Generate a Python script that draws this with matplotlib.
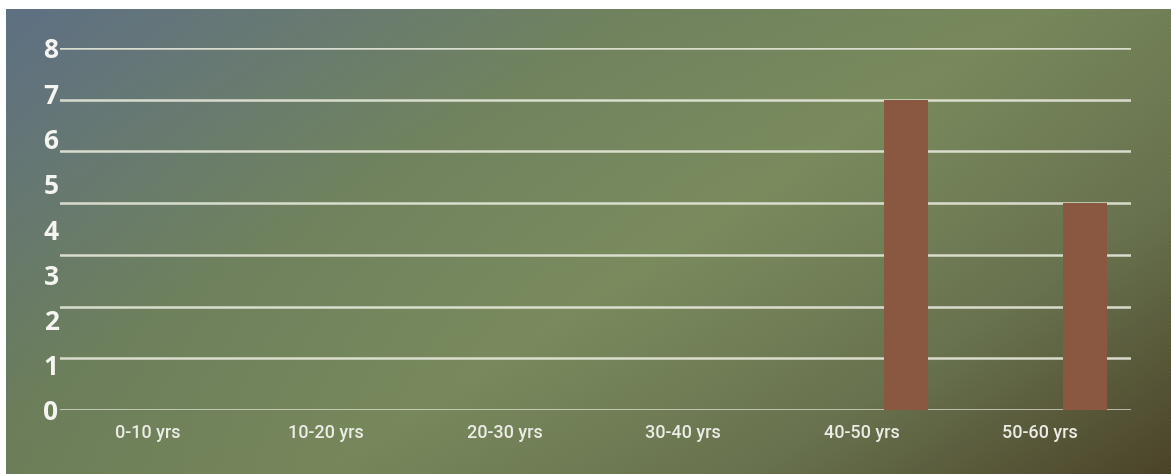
import numpy as np
import matplotlib
matplotlib.use("Agg")
import matplotlib.pyplot as plt
from matplotlib.colors import LinearSegmentedColormap

# Age-group counts
categories = ["0-10 yrs", "10-20 yrs", "20-30 yrs", "30-40 yrs", "40-50 yrs", "50-60 yrs"]
counts = [0, 0, 0, 0, 6.86, 4.57]
y_tick_labels = ["0", "1", "2", "3", "4", "5", "6", "7", "8"]

W, H = 1171, 474
fig = plt.figure(figsize=(W / 100, H / 100), dpi=100)
fig.patch.set_facecolor("white")

# Gradient backdrop: slate blue top-left -> olive green -> dark olive bottom-right
bg = fig.add_axes([6 / W, 0, 1 - 6 / W, 1 - 9 / H])
bg.set_axis_off()
ny, nx = H - 9, W - 6
py, px = np.mgrid[0:ny, 0:nx]
xx = px / (nx - 1)
yy = py / (ny - 1)
t = np.clip(0.62 * xx + 0.38 * yy, 0, 1)
stops = [(0.0, "#63758a"), (0.33, "#71845f"), (0.55, "#7a8b5e"),
         (0.78, "#6a7450"), (1.0, "#4f472b")]
cmap = LinearSegmentedColormap.from_list("bg", stops)
img = cmap(t)[..., :3]
# darker edges towards the left and bottom-right
vign = 1 - 0.06 * ((xx - 0.55) ** 2 * 2 + (yy - 0.4) ** 2)
img = img * vign[..., None]
# faint fine diagonal weave
stripes = 0.010 * np.sin((px + py) * 2 * np.pi / 4.0)
img = np.clip(img + stripes[..., None], 0, 1)
bg.imshow(img, aspect="auto", extent=[0, 1, 0, 1], origin="upper", interpolation="none")

# Chart area
ax = fig.add_axes([60 / W, (H - 410) / H, (1131 - 60) / W, (410 - 48) / H])
ax.patch.set_alpha(0)
for s in ax.spines.values():
    s.set_visible(False)

n = len(categories)
x = np.arange(n)
ax.set_xlim(-0.49, n - 0.49)
ax.set_ylim(0, 8)

# Horizontal guide lines
for g in np.linspace(0, 8, 8):
    ax.axhline(g, color="#e6e8da", lw=1.8, alpha=0.9, zorder=1)

ax.bar(x + 0.25, counts, width=0.247, color="#8a5841", zorder=2)

ax.set_yticks(range(len(y_tick_labels)))
ax.set_yticklabels(y_tick_labels, fontsize=19, color="#f4f4f0",
                   family="Open Sans", fontweight="bold")
ax.tick_params(axis="y", length=0, pad=1)

ax.set_xticks(x)
ax.set_xticklabels(categories, fontsize=13, color="#ecece6", family="Roboto",
                   fontweight="medium")
ax.tick_params(axis="x", length=0, pad=10)

fig.savefig("out.png", dpi=100, facecolor=fig.get_facecolor())
